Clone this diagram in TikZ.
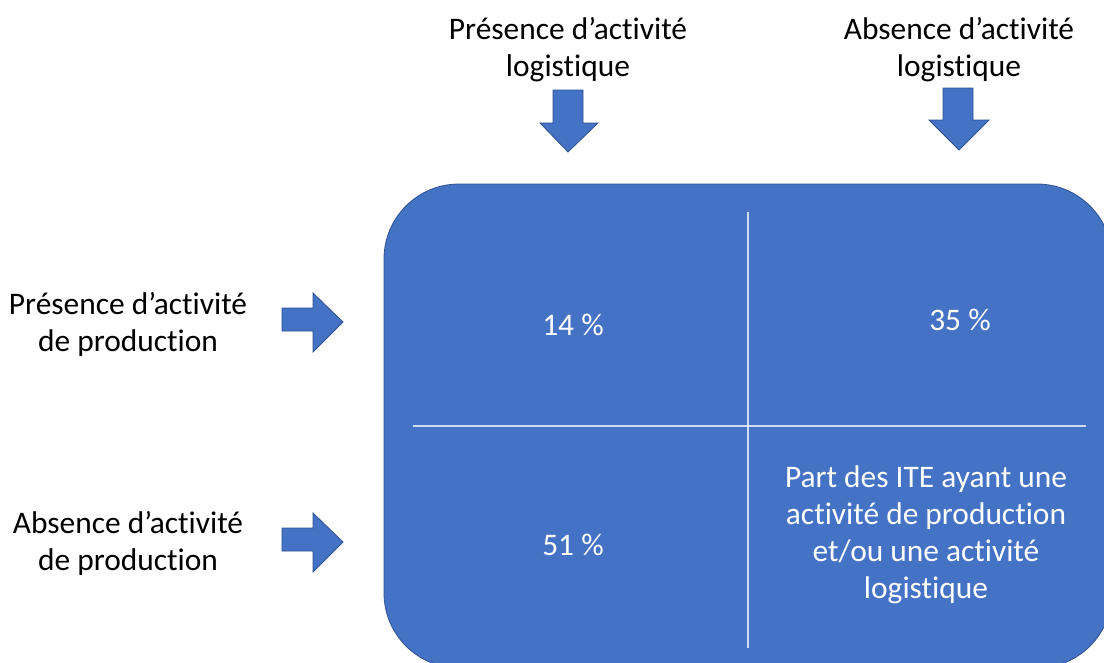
\documentclass[tikz,border=0pt]{standalone}
\usepackage{fontspec}
\setmainfont[Ligatures={NoCommon,NoRequired,NoContextual},RawFeature={-liga,-clig,-calt,-dlig}]{Carlito}
\definecolor{boxblue}{HTML}{4472C4}
\definecolor{boxedge}{HTML}{2F528F}
\begin{document}
\begin{tikzpicture}[x=1pt,y=-1pt,
  lbl/.style={align=center,text=black,font=\fontsize{31.4}{37}\selectfont,inner sep=0pt},
  wlbl/.style={align=center,text=white,font=\fontsize{31.4}{37}\selectfont,inner sep=0pt},
  blk/.style={fill=boxblue,draw=boxedge,line width=0.8pt,line join=miter},
  divider/.style={draw=white,opacity=0.75,line width=1.4pt}]
\useasboundingbox (0,0) rectangle (1104,662);
\begin{scope}
\clip (0,0) rectangle (1104,662);
\path[blk,rounded corners=75pt] (384,184) rectangle (1112,668);
\end{scope}
% dividers
\coordinate (vtop) at (748,212);
\coordinate (vbot) at (748,648);
\coordinate (hl) at (413,426);
\coordinate (hr) at (1086,426);
\draw[divider] (vtop) -- (vbot);
\draw[divider] (hl) -- (hr);
% down arrows
\path[blk] (553,90) -- (583,90) -- (583,123) -- (598,123) -- (568,152) -- (540,123) -- (553,123) -- cycle;
\path[blk] (943,88) -- (973,88) -- (973,120) -- (989,120) -- (959,150) -- (929,120) -- (943,120) -- cycle;
% right arrows
\path[blk] (282,308) -- (313,308) -- (313,293) -- (343,322) -- (313,352) -- (313,331) -- (282,331) -- cycle;
\path[blk] (282,528) -- (313,528) -- (313,513) -- (343,542) -- (313,572) -- (313,551) -- (282,551) -- cycle;
% labels
\node[lbl] (tl) at (568,50) {Présence d’activité\\logistique};
\node[lbl] (tr) at (959,50) {Absence d’activité\\logistique};
\node[lbl] (l1) at (128,324) {Présence d’activité\\de production};
\node[lbl] (l2) at (128,543) {Absence d’activité\\de production};
\node[wlbl] (c1) at (573,325) {14 \%};
\node[wlbl] (c2) at (960,320) {35 \%};
\node[wlbl] (c3) at (573,545) {51 \%};
\node[wlbl] (c4) at (926,535) {Part des ITE ayant une\\activité de production\\et/ou une activité\\logistique};
\end{tikzpicture}
\end{document}
